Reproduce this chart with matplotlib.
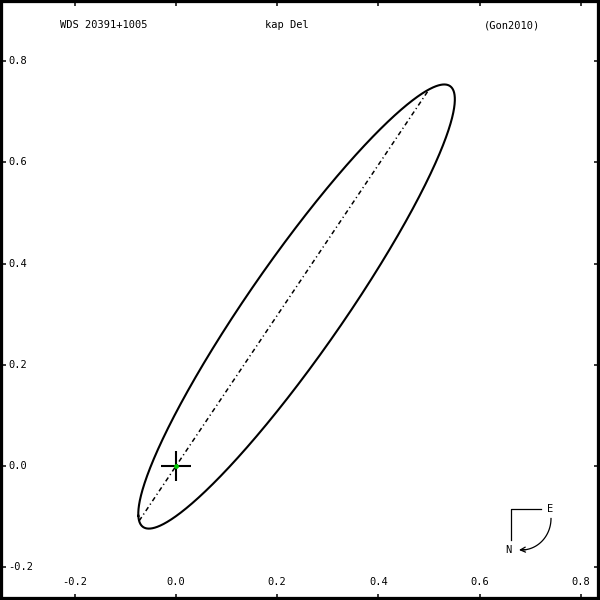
import numpy as np
import matplotlib
matplotlib.use("Agg")
import matplotlib.pyplot as plt
import matplotlib.transforms as mtransforms

# orbit of WDS 20391+1005 (kap Del, Gon2010), elements
a_arcsec = 0.54871
ecc = 0.76197
incl = 75.3213      # deg
node = -121.8857    # deg
omega = -19.7755    # deg
node_line_angle = 56.1   # deg, angle of the dash-dot line in the plot

xticks = [-0.2, 0.0, 0.2, 0.4, 0.6, 0.8]
yticks = [-0.2, 0.0, 0.2, 0.4, 0.6, 0.8]
tick_labels = ['-0.2', '0.0', '0.2', '0.4', '0.6', '0.8']
titles = ['WDS 20391+1005', 'kap Del', '(Gon2010)']

# Thiele-Innes constants
i, O, w = np.radians([incl, node, omega])
A = a_arcsec*(np.cos(w)*np.cos(O) - np.sin(w)*np.sin(O)*np.cos(i))
B = a_arcsec*(np.cos(w)*np.sin(O) + np.sin(w)*np.cos(O)*np.cos(i))
F = a_arcsec*(-np.sin(w)*np.cos(O) - np.cos(w)*np.sin(O)*np.cos(i))
G = a_arcsec*(-np.sin(w)*np.sin(O) + np.cos(w)*np.cos(O)*np.cos(i))

E = np.linspace(0, 2*np.pi, 2000)
xx = np.cos(E) - ecc
yy = np.sqrt(1 - ecc**2)*np.sin(E)
ox = A*xx + F*yy
oy = B*xx + G*yy

# where the node line crosses the orbit
t = np.radians(node_line_angle)
cr = ox*np.sin(t) - oy*np.cos(t)
ends = []
for k in np.where(np.sign(cr[:-1]) != np.sign(cr[1:]))[0]:
    f = cr[k]/(cr[k] - cr[k+1])
    ends.append((ox[k] + f*(ox[k+1] - ox[k]), oy[k] + f*(oy[k+1] - oy[k])))
ends = np.array(ends)

plt.rcParams['font.family'] = 'DejaVu Sans Mono'
fig = plt.figure(figsize=(6, 6), dpi=100)
ax = fig.add_axes([0, 0, 1, 1])
ax.plot(ox, oy, color='black', lw=1.5)
ax.plot(ends[:, 0], ends[:, 1], color='black', lw=1.1, dashes=(3, 2, 0.8, 2))
ax.plot(0, 0, '+', color='black', ms=21.6, mew=1.5)
ax.plot(0, 0, 'o', color='#00c800', ms=3.5, mec='none')
ax.set_xlim(-176/506, 424/506)
ax.set_ylim(-134/506, 466/506)

for s in ax.spines.values():
    s.set_linewidth(4.5)
ax.set_xticks(xticks)
ax.set_yticks(yticks)
ax.tick_params(direction='in', length=4.3, width=1.1, top=True, right=True,
               labelbottom=False, labelleft=False)

fs = 7.5
tx = mtransforms.blended_transform_factory(ax.transData, ax.transAxes)
ty = mtransforms.blended_transform_factory(ax.transAxes, ax.transData)
for v, lab in zip(xticks, tick_labels):
    ax.text(v, 0.03, lab, transform=tx, ha='center', va='center', fontsize=fs)
for v, lab in zip(yticks, tick_labels):
    ax.text(0.0135, v, lab, transform=ty, ha='left', va='center', fontsize=fs)

ax.text(0.1, 0.958, titles[0], transform=ax.transAxes, ha='left', va='center', fontsize=fs)
ax.text(0.4775, 0.958, titles[1], transform=ax.transAxes, ha='center', va='center', fontsize=fs)
ax.text(0.853, 0.958, titles[2], transform=ax.transAxes, ha='center', va='center', fontsize=fs)


# compass in the lower right corner (pixel positions -> axes fraction)
def pa(x, y):
    return x/600, 1 - y/600


ax.plot(*zip(pa(541, 509), pa(511, 509), pa(511, 540)), transform=ax.transAxes, color='black', lw=0.9)
ax.text(*pa(550, 509), 'E', transform=ax.transAxes, ha='center', va='center', fontsize=fs)
ax.text(*pa(508, 550), 'N', transform=ax.transAxes, ha='center', va='center', fontsize=fs)
th = np.linspace(0, np.pi/2, 40)
arc_x = (521.5 + 29.5*np.cos(th))/600
arc_y = 1 - (518.5 + 31.5*np.sin(th))/600
ax.plot(arc_x, arc_y, transform=ax.transAxes, color='black', lw=0.9)
ax.annotate('', xy=pa(519, 550), xytext=pa(526, 549.6), xycoords='axes fraction',
            textcoords='axes fraction',
            arrowprops=dict(arrowstyle='->', lw=0.9, color='black', mutation_scale=9,
                            shrinkA=0, shrinkB=0))

fig.savefig("out.png")
